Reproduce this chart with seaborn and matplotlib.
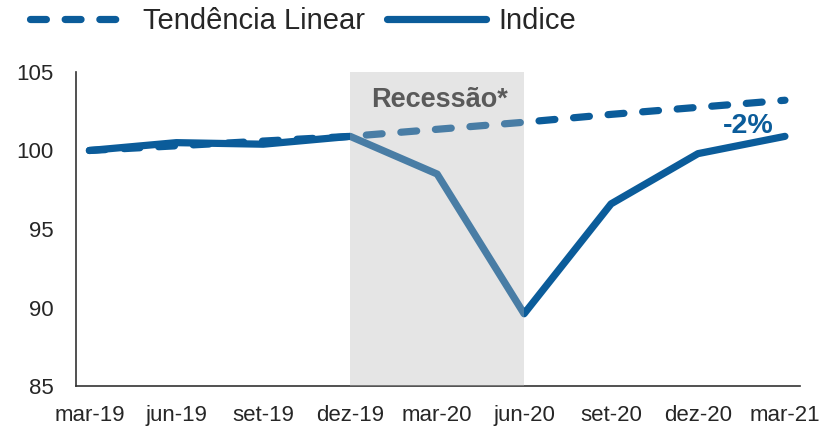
import matplotlib
matplotlib.use("Agg")
import matplotlib.pyplot as plt
import seaborn as sns
import pandas as pd
from matplotlib.lines import Line2D

# Data
quarters = ["mar-19", "jun-19", "set-19", "dez-19", "mar-20", "jun-20", "set-20", "dez-20", "mar-21"]
indice = [100.0, 100.5, 100.4, 100.9, 98.5, 89.6, 96.6, 99.8, 100.9]
tendencia = [100.0, 100.3, 100.6, 100.9, 101.35, 101.8, 102.3, 102.75, 103.2]
recession_start, recession_end = "dez-19", "jun-20"
yticks = [85, 90, 95, 100, 105]

sns.set_theme(style="white")
plt.rcParams["font.family"] = ["Liberation Sans", "DejaVu Sans"]

BLUE = "#0b5c9a"
pos = list(range(len(quarters)))
df = pd.DataFrame({"pos": pos, "Indice": indice, "Tendência Linear": tendencia})

fig = plt.figure(figsize=(8.27, 4.30), dpi=100)
ax = fig.add_axes([0.0919, 0.1023, 0.967 - 0.0919, 0.8326 - 0.1023])

sns.lineplot(data=df, x="pos", y="Indice", ax=ax, color=BLUE, lw=5.2,
             solid_capstyle="round", solid_joinstyle="round", zorder=3)
sns.lineplot(data=df, x="pos", y="Tendência Linear", ax=ax, color=BLUE, lw=5.2,
             dashes=False, zorder=2)
tl = ax.get_lines()[-1]
tl.set_dashes((2.2, 2.6))
tl.set_dash_capstyle("round")

s = quarters.index(recession_start)
e = quarters.index(recession_end)
ax.axvspan(s, e, color="#b9b9b9", alpha=0.36, lw=0, zorder=4)

ax.text((s + e) / 2 + 0.03, 103.2, "Recessão*", ha="center", va="center",
        fontsize=19.5, fontweight="bold", color="#5a5a5a", zorder=5)
ax.text(7.58, 101.55, "-2%", ha="center", va="center", fontsize=20.5,
        fontweight="bold", color=BLUE, zorder=5)

ax.set_xlim(-0.106, 8.17)
ax.set_ylim(85, 105)
ax.set_yticks(yticks)
ax.set_yticklabels([str(v) for v in yticks], fontsize=16)
ax.set_xticks(pos)
ax.set_xticklabels(quarters, fontsize=16)
ax.tick_params(axis="x", which="major", length=0, pad=14)
ax.set_xticks([p - 0.154 for p in pos], minor=True)
ax.tick_params(axis="x", which="minor", length=6, width=1.2, color="#333333", direction="inout")
ax.tick_params(axis="y", length=6, width=1.2, color="#333333", direction="out", pad=10)
ax.set_xlabel("")
ax.set_ylabel("")
for sp in ["top", "right"]:
    ax.spines[sp].set_visible(False)
for sp in ["left", "bottom"]:
    ax.spines[sp].set_color("#333333")
    ax.spines[sp].set_linewidth(1.2)

h1 = Line2D([], [], color=BLUE, lw=5.2, dashes=(2.2, 2.6), dash_capstyle="round")
h2 = Line2D([], [], color=BLUE, lw=5.2, solid_capstyle="round")
fig.legend([h1, h2], ["Tendência Linear", "Indice"], loc="upper left",
           bbox_to_anchor=(0.005, 1.045), ncol=2, frameon=False, fontsize=21,
           handlelength=3.4, handletextpad=0.45, columnspacing=0.75)

fig.savefig("out.png", dpi=100)
